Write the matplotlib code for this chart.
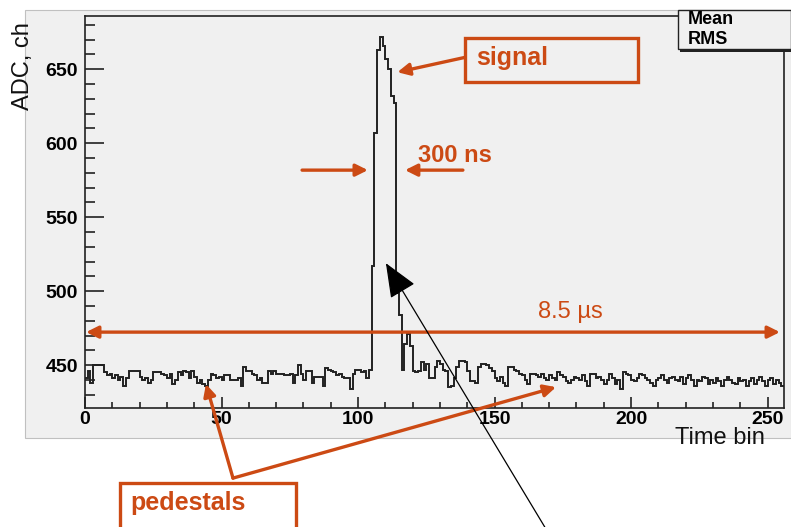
import matplotlib
matplotlib.use("Agg")
import numpy as np
import matplotlib.pyplot as plt
from matplotlib.patches import Rectangle, FancyArrowPatch
from matplotlib.ticker import MultipleLocator

# ADC value per time bin
pedestal_left = [
    441, 446, 438, 450, 450, 450, 450, 445, 443, 444,
    441, 443, 440, 442, 436, 441, 446, 446, 446, 446,
    442, 440, 441, 438, 440, 445, 445, 445, 444, 443,
    441, 444, 437, 440, 445, 443, 446, 445, 441, 446,
    442, 438, 440, 437, 436, 440, 444, 443, 441, 442,
    440, 443, 443,
    440, 440, 440, 441, 436, 449, 446, 446, 444, 443,
    440, 441, 438, 438, 446, 444, 446, 444, 444, 444,
    443, 443, 444, 438, 443, 450, 444, 440, 446, 446,
    438, 442, 442, 442, 436, 448, 447, 446, 445, 443,
    444, 442, 441, 441, 434, 444, 447, 447, 445, 446,
    441, 447,
]
signal_peak = [517, 607, 663, 672, 666, 657, 650, 632, 627, 499,
               484, 447, 464, 471, 463, 446]
pedestal_right = [
    445, 446, 452, 447, 451, 441, 441, 449, 453, 451,
    447, 446, 435, 436, 441, 449, 453, 453, 452, 446,
    439, 439, 438, 449, 451, 451, 450, 448, 446, 441,
    439, 442, 438, 436, 449, 449, 447, 446, 444, 443,
    440, 437,
    444, 444, 443, 442, 444, 441, 440, 443, 441, 440,
    445, 443, 442, 439, 438, 440, 442, 441, 440, 443,
    439, 436, 444, 444, 441, 442, 440, 437, 440, 444,
    441, 437, 440, 434, 445, 444, 443, 440, 439, 441,
    444, 443, 441, 440, 438, 436, 440, 441, 443, 440,
    438, 441, 442, 440, 439, 442, 437, 441, 443, 440,
    436, 440, 439, 442, 441, 437, 440, 438, 441, 439,
    436, 440, 442, 440, 438, 437, 441, 439, 440, 436,
    439, 441, 437, 440, 442, 439, 436, 440, 441, 437,
    440, 438, 436,
]

adc = np.array(pedestal_left + signal_peak + pedestal_right, dtype=float)
edges = np.arange(len(adc) + 1)

orange = "#cc4a14"
W, H = 791, 527

plt.rcParams["font.family"] = ["Liberation Sans", "DejaVu Sans"]


def fpx(x, y):
    # pixel position (top-left origin) -> figure fraction
    return x / W, 1 - y / H


fig = plt.figure(figsize=(W / 100, H / 100), dpi=100)
fig.patch.set_facecolor("white")

# grey ROOT canvas
x0, y0 = fpx(25, 438)
fig.patches.append(Rectangle((x0, y0), (W - 25) / W, (438 - 10) / H,
                             transform=fig.transFigure, facecolor="#f0f0f0",
                             edgecolor="#c0c0c0", lw=0.8, zorder=-10))

l, b = fpx(85, 408)
ax = fig.add_axes([l, b, (784 - 85) / W, (408 - 16) / H])
ax.set_facecolor("none")
ax.set_zorder(1)

ax.stairs(adc, edges, baseline=None, color="#222222", lw=1.4)

ax.set_xlim(0, 256)
ax.set_ylim(421, 686)
ax.xaxis.set_major_locator(MultipleLocator(50))
ax.xaxis.set_minor_locator(MultipleLocator(10))
ax.yaxis.set_major_locator(MultipleLocator(50))
ax.yaxis.set_minor_locator(MultipleLocator(10))
ax.tick_params(which="both", direction="in", width=1.2, color="#222222",
               top=False, right=False)
ax.tick_params(axis="y", which="major", length=14, pad=5, labelsize=14)
ax.tick_params(axis="y", which="minor", length=7)
ax.tick_params(axis="x", which="major", length=8, pad=2, labelsize=14)
ax.tick_params(axis="x", which="minor", length=4)
for lab in ax.get_xticklabels() + ax.get_yticklabels():
    lab.set_fontweight("bold")
for sp in ax.spines.values():
    sp.set_linewidth(1.2)
    sp.set_color("#222222")

fig.text(*fpx(23, 22), "ADC, ch", rotation=90, ha="center", va="top",
         fontsize=17, color="#111111")
fig.text(*fpx(765, 438), "Time bin", ha="right", va="center",
         fontsize=17, color="#111111")

# stats box (Mean / RMS) at the top right
sx, sy = fpx(678, 49)
fig.patches.append(Rectangle((sx + 2 / W, sy - 3 / H), (W - 678) / W, 39 / H,
                             transform=fig.transFigure, facecolor="#222222",
                             lw=0, zorder=5))
fig.patches.append(Rectangle((sx, sy), (W - 678) / W, 39 / H,
                             transform=fig.transFigure, facecolor="#f0f0f0",
                             edgecolor="#222222", lw=1.0, zorder=6))
fig.text(*fpx(688, 19), "Mean", fontsize=13, fontweight="bold",
         va="center", zorder=7)
fig.text(*fpx(688, 40), "RMS", fontsize=13, fontweight="bold",
         va="center", zorder=7)


def arrow(p0, p1, style="-|>", color=orange, lw=2.4, ms=18):
    a = FancyArrowPatch(p0, p1, arrowstyle=style, mutation_scale=ms,
                        color=color, lw=lw, clip_on=False, zorder=4,
                        shrinkA=0, shrinkB=0)
    ax.add_patch(a)


# signal box and arrow
ax.add_patch(Rectangle((139.1, 641.2), 63.4, 29.7, fill=False,
                       edgecolor=orange, lw=2.4, clip_on=False))
ax.text(143.2, 657.4, "signal", color=orange, fontsize=18,
        fontweight="bold", va="center")
arrow((139.1, 658), (114.4, 648))

# 300 ns width arrows
arrow((79.5, 581.8), (103.6, 581.8))
arrow((138.4, 581.8), (117.2, 581.8))
ax.text(121.9, 591.9, "300 ns", color=orange, fontsize=17,
        fontweight="bold", va="center")

# 8.5 us span
arrow((0.4, 472.3), (254.5, 472.3), style="<|-|>")
ax.text(177.6, 485.8, "8.5 \u00b5s", color=orange, fontsize=17,
        ha="center", va="center")

# pedestals box and pointers
px0, py0 = fpx(120, 535)
fig.patches.append(Rectangle((px0, py0), 176 / W, 52 / H,
                             transform=fig.transFigure, fill=False,
                             edgecolor=orange, lw=2.4, zorder=4))
fig.text(*fpx(130, 503), "pedestals", color=orange, fontsize=18,
         fontweight="bold", va="center")
arrow((54.2, 373.6), (44.3, 437.2))
arrow((54.2, 373.6), (172.5, 435.1))

# thin black pointer with big head
arrow((168.4, 340.5), (110.2, 518.9),
      style="-|>,head_length=0.6,head_width=0.25",
      color="black", lw=0.9, ms=36)

fig.savefig("out.png", dpi=100, facecolor="white")
